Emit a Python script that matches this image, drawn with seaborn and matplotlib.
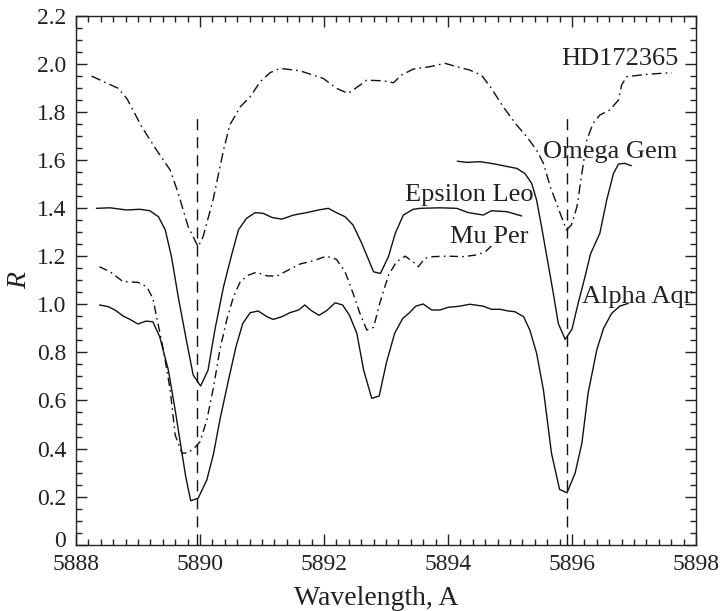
import numpy as np
import pandas as pd
import matplotlib
matplotlib.use("Agg")
import matplotlib.pyplot as plt
import matplotlib.transforms as mtransforms
from matplotlib.ticker import MultipleLocator
import seaborn as sns

# ---------------- data ----------------
hd_x = [5888.25, 5888.68, 5888.82, 5889.06, 5889.30, 5889.52, 5889.65, 5889.81, 5889.97, 5890.05,
        5890.21, 5890.38, 5890.48, 5890.65, 5890.81, 5890.97, 5891.13, 5891.29, 5891.61, 5891.99,
        5892.20, 5892.39, 5892.58, 5892.69, 5892.96, 5893.12, 5893.25, 5893.44, 5893.71, 5893.95,
        5894.14, 5894.35, 5894.54, 5894.70, 5894.89, 5895.11, 5895.27, 5895.43, 5895.54, 5895.65,
        5895.81, 5895.91, 5895.99, 5896.08, 5896.16, 5896.24, 5896.34, 5896.45, 5896.61, 5896.75,
        5896.80, 5896.88, 5897.10, 5897.26, 5897.42, 5897.61]
hd_y = [1.949, 1.898, 1.856, 1.738, 1.641, 1.558, 1.461, 1.322, 1.239, 1.281,
        1.433, 1.641, 1.745, 1.821, 1.863, 1.925, 1.963, 1.981, 1.971, 1.939,
        1.898, 1.877, 1.911, 1.932, 1.929, 1.921, 1.953, 1.978, 1.988, 2.002,
        1.988, 1.974, 1.953, 1.898, 1.821, 1.745, 1.697, 1.641, 1.586, 1.489,
        1.378, 1.309, 1.329, 1.405, 1.544, 1.683, 1.752, 1.787, 1.808, 1.849,
        1.911, 1.946, 1.953, 1.957, 1.960, 1.963]

eps_x = [5888.33, 5888.55, 5888.82, 5889.03, 5889.19, 5889.33, 5889.44, 5889.54, 5889.65, 5889.78,
         5889.89, 5890.01, 5890.13, 5890.24, 5890.38, 5890.51, 5890.62, 5890.75, 5890.89, 5891.02,
         5891.16, 5891.32, 5891.51, 5891.72, 5891.91, 5892.07, 5892.20, 5892.34, 5892.47, 5892.61,
         5892.80, 5892.91, 5893.04, 5893.15, 5893.28, 5893.44, 5893.55, 5893.87, 5894.14, 5894.33,
         5894.57, 5894.70, 5894.95, 5895.19]
eps_y = [1.399, 1.401, 1.392, 1.395, 1.389, 1.364, 1.309, 1.198, 1.030, 0.851,
         0.706, 0.660, 0.726, 0.893, 1.073, 1.205, 1.309, 1.357, 1.381, 1.378,
         1.361, 1.354, 1.371, 1.381, 1.392, 1.399, 1.381, 1.364, 1.329, 1.253,
         1.135, 1.128, 1.198, 1.295, 1.371, 1.395, 1.399, 1.401, 1.399, 1.381,
         1.371, 1.389, 1.385, 1.367]

omg_x = [5894.15, 5894.30, 5894.52, 5894.76, 5894.97, 5895.11, 5895.24, 5895.35, 5895.43, 5895.51,
         5895.59, 5895.69, 5895.78, 5895.89, 5896.00, 5896.10, 5896.21, 5896.30, 5896.45, 5896.56,
         5896.67, 5896.75, 5896.85, 5896.96]
omg_y = [1.595, 1.590, 1.593, 1.583, 1.572, 1.565, 1.544, 1.503, 1.433, 1.322,
         1.205, 1.059, 0.920, 0.854, 0.896, 1.004, 1.114, 1.210, 1.295, 1.433,
         1.544, 1.583, 1.586, 1.576]

mu_x = [5888.38, 5888.55, 5888.76, 5889.00, 5889.14, 5889.24, 5889.30, 5889.41, 5889.52, 5889.60,
        5889.71, 5889.81, 5889.92, 5890.00, 5890.11, 5890.22, 5890.32, 5890.43, 5890.54, 5890.65,
        5890.78, 5890.91, 5891.08, 5891.24, 5891.40, 5891.61, 5891.83, 5892.04, 5892.20, 5892.34,
        5892.47, 5892.58, 5892.69, 5892.80, 5892.90, 5893.04, 5893.17, 5893.31, 5893.47, 5893.52,
        5893.63, 5893.76, 5893.98, 5894.25, 5894.46, 5894.60, 5894.70]
mu_y = [1.156, 1.135, 1.094, 1.091, 1.073, 1.025, 0.948, 0.810, 0.643, 0.456,
        0.380, 0.383, 0.405, 0.428, 0.518, 0.657, 0.810, 0.934, 1.031, 1.094,
        1.121, 1.133, 1.118, 1.117, 1.139, 1.167, 1.181, 1.200, 1.187, 1.135,
        1.045, 0.962, 0.893, 0.904, 1.004, 1.121, 1.177, 1.200, 1.170, 1.156,
        1.191, 1.198, 1.200, 1.198, 1.205, 1.218, 1.242]

aqr_x = [5888.38, 5888.52, 5888.63, 5888.76, 5888.87, 5889.00, 5889.13, 5889.24, 5889.35, 5889.49,
         5889.60, 5889.71, 5889.77, 5889.85, 5889.97, 5890.11, 5890.22, 5890.32, 5890.46, 5890.58,
         5890.69, 5890.81, 5890.94, 5891.08, 5891.18, 5891.32, 5891.45, 5891.59, 5891.69, 5891.80,
         5891.92, 5892.04, 5892.18, 5892.30, 5892.41, 5892.53, 5892.64, 5892.77, 5892.89, 5893.01,
         5893.14, 5893.27, 5893.38, 5893.48, 5893.60, 5893.74, 5893.87, 5894.00, 5894.19, 5894.35,
         5894.57, 5894.70, 5894.84, 5894.97, 5895.08, 5895.22, 5895.32, 5895.43, 5895.54, 5895.67,
         5895.80, 5895.92, 5896.05, 5896.16, 5896.26, 5896.40, 5896.51, 5896.64, 5896.77, 5896.91]
aqr_y = [0.997, 0.990, 0.976, 0.951, 0.937, 0.918, 0.930, 0.927, 0.865, 0.726,
         0.560, 0.380, 0.283, 0.183, 0.193, 0.269, 0.380, 0.518, 0.685, 0.823,
         0.920, 0.965, 0.972, 0.948, 0.937, 0.948, 0.965, 0.976, 0.997, 0.973,
         0.954, 0.973, 1.006, 0.997, 0.955, 0.879, 0.726, 0.609, 0.618, 0.760,
         0.879, 0.941, 0.965, 0.992, 1.001, 0.976, 0.976, 0.987, 0.992, 1.000,
         0.992, 0.979, 0.979, 0.972, 0.969, 0.948, 0.893, 0.796, 0.643, 0.380,
         0.230, 0.216, 0.297, 0.422, 0.630, 0.810, 0.900, 0.962, 0.992, 1.004]

sodium_lines = [5889.95, 5895.92]
sodium_top = 1.8

star_names = ["HD172365", "Epsilon Leo", "Omega Gem", "Mu Per", "Alpha Aqr"]
x_ticks = [5888, 5890, 5892, 5894, 5896, 5898]
y_ticks = [0, 0.2, 0.4, 0.6, 0.8, 1.0, 1.2, 1.4, 1.6, 1.8, 2.0, 2.2]
y_tick_labels = ["0", "0.2", "0.4", "0.6", "0.8", "1.0", "1.2", "1.4", "1.6", "1.8", "2.0", "2.2"]

# ---------------- style ----------------
sns.set_theme(style="ticks")
plt.rcParams["font.family"] = ["Liberation Serif", "DejaVu Serif"]
plt.rcParams["axes.linewidth"] = 1.0

fig = plt.figure(figsize=(7.23, 6.11), dpi=100)
ax = fig.add_axes([0.1051, 0.1085, 0.8575, 0.8658])

series = [
    (hd_x, hd_y, (0, (7, 3, 1.2, 3))),
    (eps_x, eps_y, "-"),
    (omg_x, omg_y, "-"),
    (mu_x, mu_y, (0, (6, 3, 1.2, 3))),
    (aqr_x, aqr_y, "-"),
]
for (xs, ys, ls), name in zip(series, star_names):
    df = pd.DataFrame({"x": xs, "y": ys})
    sns.lineplot(data=df, x="x", y="y", ax=ax, color="#111111", lw=1.0,
                 estimator=None, sort=False, linestyle=ls, legend=False)

ax.vlines(sodium_lines, 0, sodium_top, colors="#111111", linestyles=(0, (8, 5)), lw=1.0)

lfs = 19
ax.text(5895.83, 1.997, "HD172365", fontsize=lfs, ha="left", va="baseline", color="#222222")
ax.text(5895.54, 1.607, "Omega Gem", fontsize=lfs, ha="left", va="baseline", color="#222222")
ax.text(5893.31, 1.429, "Epsilon Leo", fontsize=lfs, ha="left", va="baseline", color="#222222")
ax.text(5894.03, 1.253, "Mu Per", fontsize=lfs, ha="left", va="baseline", color="#222222")
ax.text(5896.16, 1.006, "Alpha Aqr", fontsize=lfs, ha="left", va="baseline", color="#222222")

ax.set_xlim(5888, 5898)
ax.set_ylim(0, 2.2)
ax.set_xticks(x_ticks)
ax.set_xticklabels([str(t) for t in x_ticks])
ax.set_yticks(y_ticks)
ax.set_yticklabels(y_tick_labels)
ax.xaxis.set_minor_locator(MultipleLocator(0.2))
ax.yaxis.set_minor_locator(MultipleLocator(0.05))
ax.tick_params(which="both", direction="in", top=True, right=True, color="#222222", width=1.0)
ax.tick_params(which="major", length=8, labelsize=17, pad=7, labelcolor="#222222")
ax.tick_params(which="minor", length=4.5)
for s in ax.spines.values():
    s.set_visible(True)
    s.set_color("#222222")

# nudge the "0" y tick label slightly upward, as in the original
zero_lab = ax.yaxis.get_major_ticks()[0].label1
zero_lab.set_transform(zero_lab.get_transform() +
                       mtransforms.ScaledTranslation(0, 4 / 72, fig.dpi_scale_trans))

ax.set_xlabel("Wavelength, A", fontsize=20, color="#222222")
ax.xaxis.set_label_coords(0.485, -0.114, transform=ax.transAxes)
ax.xaxis.label.set_va("baseline")
ax.set_ylabel("R", fontsize=20, fontstyle="italic", labelpad=3, color="#222222")

fig.savefig("out.png", dpi=100)
